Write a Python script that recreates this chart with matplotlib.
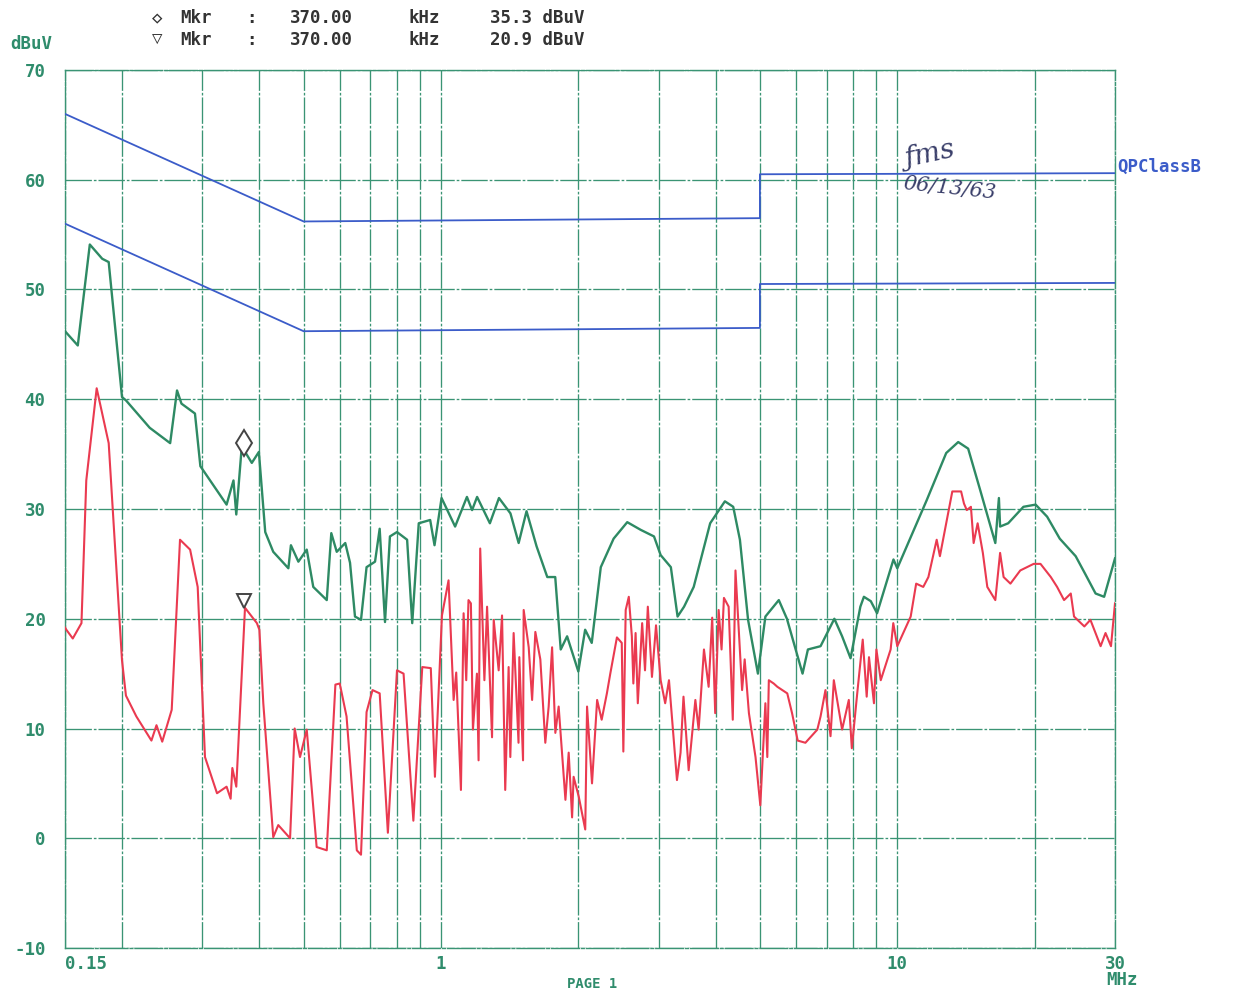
import matplotlib
matplotlib.use("Agg")
import matplotlib.pyplot as plt
import matplotlib.transforms as mtransforms

# ---------------- data ----------------
# Limit lines (CISPR 22 Class B), MHz / dBuV
qp_f = [0.15, 0.5, 5.0, 5.0, 30.0]
qp_db = [66, 56.2, 56.5, 60.5, 60.6]
av_f = [0.15, 0.5, 5.0, 5.0, 30.0]
av_db = [56, 46.2, 46.5, 50.5, 50.6]

# Peak / quasi-peak trace (green)
green_f = [0.150, 0.160, 0.170, 0.181, 0.187, 0.200, 0.204, 0.230, 0.255, 0.264,
           0.270, 0.289, 0.297, 0.339, 0.351, 0.356, 0.366, 0.385, 0.399, 0.412,
           0.429, 0.463, 0.469, 0.487, 0.508, 0.525, 0.562, 0.575, 0.591, 0.617,
           0.632, 0.648, 0.668, 0.687, 0.717, 0.734, 0.754, 0.773, 0.801, 0.843,
           0.865, 0.894, 0.947, 0.968, 1.003, 1.074, 1.14, 1.17, 1.20, 1.28,
           1.34, 1.42, 1.48, 1.54, 1.62, 1.71, 1.78, 1.83, 1.89, 2.00,
           2.07, 2.14, 2.24, 2.39, 2.56, 2.74, 2.93, 3.03, 3.19, 3.30,
           3.41, 3.58, 3.89, 4.19, 4.37, 4.52, 4.71, 4.95, 5.14, 5.50,
           5.73, 6.20, 6.37, 6.79, 7.28, 7.57, 7.90, 8.30, 8.45, 8.75,
           9.03, 9.81, 10.0, 11.6, 12.8, 13.6, 14.3, 15.2, 16.4, 16.7,
           16.8, 17.5, 18.9, 20.1, 21.3, 22.7, 24.6, 25.8, 27.2, 28.4,
           30.0]
green_db = [46.2, 44.9, 54.1, 52.8, 52.5, 40.2, 39.9, 37.4, 36.0, 40.8,
            39.6, 38.7, 33.9, 30.4, 32.6, 29.5, 35.7, 34.2, 35.2, 27.9,
            26.1, 24.6, 26.7, 25.2, 26.3, 22.9, 21.7, 27.8, 26.1, 26.9,
            25.1, 20.2, 19.9, 24.7, 25.2, 28.2, 19.7, 27.5, 27.9, 27.2,
            19.6, 28.7, 29.0, 26.7, 31.0, 28.4, 31.1, 29.9, 31.1, 28.7,
            31.0, 29.6, 26.9, 29.8, 26.6, 23.8, 23.8, 17.2, 18.4, 15.2,
            19.0, 17.8, 24.7, 27.3, 28.8, 28.1, 27.5, 25.8, 24.7, 20.2,
            21.1, 22.9, 28.7, 30.7, 30.2, 27.2, 19.9, 15.0, 20.2, 21.7,
            20.0, 15.0, 17.2, 17.5, 20.0, 18.4, 16.4, 21.1, 22.0, 21.6,
            20.5, 25.4, 24.6, 30.8, 35.1, 36.1, 35.5, 31.7, 26.9, 31.0,
            28.4, 28.7, 30.2, 30.4, 29.3, 27.3, 25.7, 24.1, 22.3, 22.0,
            25.5]

# Average trace (red)
red_f = [0.150, 0.151, 0.156, 0.163, 0.167, 0.176, 0.187, 0.200, 0.204, 0.215,
         0.232, 0.238, 0.245, 0.257, 0.268, 0.282, 0.293, 0.304, 0.323, 0.339,
         0.346, 0.349, 0.356, 0.372, 0.395, 0.400, 0.408, 0.429, 0.440, 0.467,
         0.478, 0.491, 0.508, 0.534, 0.562, 0.587, 0.600, 0.621, 0.654, 0.668,
         0.687, 0.708, 0.734, 0.765, 0.801, 0.828, 0.870, 0.910, 0.950, 0.970,
         1.005, 1.039, 1.066, 1.080, 1.106, 1.121, 1.136, 1.149, 1.163, 1.175,
         1.199, 1.209, 1.219, 1.245, 1.262, 1.294, 1.305, 1.338, 1.361, 1.383,
         1.407, 1.419, 1.443, 1.479, 1.485, 1.513, 1.518, 1.557, 1.584, 1.610,
         1.651, 1.693, 1.722, 1.752, 1.781, 1.811, 1.874, 1.905, 1.938, 1.953,
         2.004, 2.071, 2.090, 2.143, 2.199, 2.25, 2.31, 2.35, 2.43, 2.49,
         2.51, 2.54, 2.58, 2.62, 2.64, 2.67, 2.70, 2.76, 2.80, 2.84,
         2.90, 2.96, 3.03, 3.10, 3.16, 3.29, 3.35, 3.40, 3.49, 3.61,
         3.67, 3.77, 3.86, 3.93, 3.99, 4.06, 4.12, 4.17, 4.27, 4.36,
         4.42, 4.57, 4.63, 4.73, 4.89, 5.01, 5.14, 5.19, 5.23, 5.36,
         5.46, 5.74, 5.88, 6.05, 6.29, 6.68, 6.79, 6.96, 7.14, 7.26,
         7.57, 7.83, 7.95, 8.17, 8.40, 8.57, 8.67, 8.89, 9.00, 9.20,
         9.67, 9.80, 10.0, 10.7, 11.0, 11.4, 11.7, 12.2, 12.4, 12.8,
         13.2, 13.8, 14.0, 14.2, 14.5, 14.7, 15.0, 15.4, 15.75, 16.4,
         16.8, 17.1, 17.7, 18.6, 19.9, 20.6, 21.7, 22.4, 23.2, 24.0,
         24.4, 25.7, 26.5, 27.9, 28.6, 29.4, 30.0]
red_db = [19.2, 19.0, 18.2, 19.6, 32.6, 41.0, 36.0, 16.2, 13.0, 11.1,
          8.9, 10.3, 8.8, 11.7, 27.2, 26.3, 22.9, 7.4, 4.1, 4.7,
          3.6, 6.4, 4.7, 21.0, 19.6, 19.0, 12.3, 0.1, 1.2, 0.0,
          10.0, 7.4, 9.9, -0.8, -1.1, 14.0, 14.1, 11.1, -1.1, -1.5,
          11.5, 13.5, 13.2, 0.5, 15.3, 15.0, 1.6, 15.6, 15.5, 5.6,
          20.3, 23.5, 12.6, 15.1, 4.4, 20.5, 14.4, 21.7, 21.4, 9.9,
          15.0, 7.1, 26.4, 14.4, 21.1, 9.2, 19.9, 15.3, 20.3, 4.4,
          15.6, 7.4, 18.7, 8.7, 16.5, 7.1, 20.8, 17.4, 12.6, 18.8,
          16.3, 8.7, 12.0, 17.4, 9.6, 12.0, 3.5, 7.8, 1.9, 5.6,
          3.8, 0.8, 12.0, 5.0, 12.6, 10.8, 13.2, 15.0, 18.3, 17.8,
          7.9, 20.8, 22.0, 18.4, 14.1, 18.7, 12.3, 19.6, 15.3, 21.1,
          14.7, 19.4, 14.4, 12.3, 14.4, 5.3, 7.8, 12.9, 6.2, 12.6,
          9.9, 17.2, 13.8, 20.1, 11.4, 20.8, 17.2, 21.9, 21.1, 10.8,
          24.4, 13.5, 16.3, 11.4, 7.4, 3.0, 12.3, 7.4, 14.4, 14.1,
          13.8, 13.2, 11.4, 8.9, 8.7, 9.9, 11.1, 13.5, 9.3, 14.4,
          9.9, 12.6, 8.2, 13.2, 18.1, 12.9, 16.5, 12.3, 17.2, 14.4,
          17.2, 19.6, 17.5, 20.2, 23.2, 22.9, 23.8, 27.2, 25.7, 28.7,
          31.6, 31.6, 30.5, 29.9, 30.2, 26.9, 28.7, 26.0, 22.9, 21.7,
          26.0, 23.8, 23.2, 24.4, 25.0, 25.0, 23.8, 22.9, 21.7, 22.3,
          20.2, 19.3, 19.9, 17.5, 18.7, 17.5, 21.4]

# Markers
mkr_f = 0.370
mkr_peak = 35.3
mkr_avg = 20.9

major_ticks = [0.15, 1, 10, 30]
major_labels = ["0.15", "1", "10", "30"]
minor_ticks = [0.2, 0.3, 0.4, 0.5, 0.6, 0.7, 0.8, 0.9,
               2, 3, 4, 5, 6, 7, 8, 9, 20]
y_ticks = [-10, 0, 10, 20, 30, 40, 50, 60, 70]

# ---------------- style ----------------
W, H = 1233, 993
GRID = "#3a9474"
TXT_G = "#2f8c6c"
GREEN = "#2e8a64"
RED = "#ea3a50"
BLUE = "#3b5cc9"
MONO = "DejaVu Sans Mono"
FS = 12.5

fig = plt.figure(figsize=(W / 100, H / 100), dpi=100)
fig.patch.set_facecolor("white")
ax = fig.add_axes([65 / W, 1 - 948 / H, (1115 - 65) / W, (948 - 70) / H])

ax.set_xscale("log")
ax.set_xlim(0.15, 30)
ax.set_ylim(-10, 70)

ax.set_xticks(major_ticks)
ax.set_xticklabels(major_labels)
ax.set_xticks(minor_ticks, minor=True)
ax.set_xticklabels([], minor=True)
ax.set_yticks(y_ticks)
ax.set_yticklabels([str(v) for v in y_ticks])

ax.tick_params(which="both", length=0, colors=TXT_G)
ax.tick_params(axis="y", pad=14)
ax.tick_params(axis="x", pad=5)
for lab in ax.get_xticklabels() + ax.get_yticklabels():
    lab.set_fontfamily(MONO)
    lab.set_fontweight("bold")
    lab.set_fontsize(FS)
    lab.set_color(TXT_G)
ax.get_xticklabels()[0].set_horizontalalignment("left")

ax.grid(True, which="both", color=GRID, lw=0.95, ls=(0, (20, 1.5, 2, 1.5)))
for sp in ax.spines.values():
    sp.set_color(GRID)
    sp.set_linewidth(1.0)
    sp.set_linestyle((0, (20, 1.5, 2, 1.5)))

# limit lines
ax.plot(qp_f, qp_db, color=BLUE, lw=1.3, zorder=3)
ax.plot(av_f, av_db, color=BLUE, lw=1.3, zorder=3)

# traces
ax.plot(green_f, green_db, color=GREEN, lw=1.7, zorder=4)
ax.plot(red_f, red_db, color=RED, lw=1.5, zorder=4)

# marker symbols (drawn just above the trace)
off = mtransforms.offset_copy(ax.transData, fig=fig, x=0, y=8, units="dots")
ax.plot([mkr_f], [mkr_peak], marker="d", ms=13, mfc="white", mec="#444444",
        mew=1.4, transform=off, zorder=6, clip_on=False)
ax.plot([mkr_f], [mkr_avg], marker="v", ms=10, mfc="white", mec="#444444",
        mew=1.4, transform=off, zorder=6, clip_on=False)

# QPClassB label
ax.text(1.002, 61.2, "QPClassB", transform=ax.get_yaxis_transform(),
        color=BLUE, fontfamily=MONO, fontweight="bold", fontsize=FS,
        va="center", ha="left")

# axis units
fig.text(10 / W, 1 - 44 / H, "dBuV", color=TXT_G, fontfamily=MONO,
         fontweight="bold", fontsize=FS, va="center", ha="left")
fig.text(1122 / W, 1 - 980 / H, "MHz", color=TXT_G, fontfamily=MONO,
         fontweight="bold", fontsize=FS, va="center", ha="center")

# header marker readout
HDR = "#333333"
rows = [(18, "\u25C7", "35.3 dBuV"), (40, "\u25BD", "20.9 dBuV")]
for ypx, sym, val in rows:
    fy = 1 - ypx / H
    kw = dict(color=HDR, fontfamily=MONO, fontweight="bold", fontsize=FS,
              va="center")
    fig.text(157 / W, fy, sym, ha="center", **kw)
    fig.text(180 / W, fy, "Mkr", ha="left", **kw)
    fig.text(251 / W, fy, ":", ha="center", **kw)
    fig.text(290 / W, fy, "370.00", ha="left", **kw)
    fig.text(408 / W, fy, "kHz", ha="left", **kw)
    fig.text(490 / W, fy, val, ha="left", **kw)

# handwritten signature and date
fig.text(930 / W, 1 - 155 / H, "\u0192ms", color="#3a3f6a", fontsize=20,
         fontstyle="italic", fontfamily="DejaVu Serif", rotation=12,
         ha="center", va="center")
fig.text(950 / W, 1 - 188 / H, "06/13/63", color="#3a3f6a", fontsize=15,
         fontstyle="italic", fontfamily="DejaVu Serif", rotation=-6,
         ha="center", va="center")

# page footer
fig.text(592 / W, 1 - 984 / H, "PAGE 1", color=TXT_G, fontfamily=MONO,
         fontweight="bold", fontsize=10, ha="center", va="center")

fig.savefig("out.png", dpi=100, facecolor="white")
